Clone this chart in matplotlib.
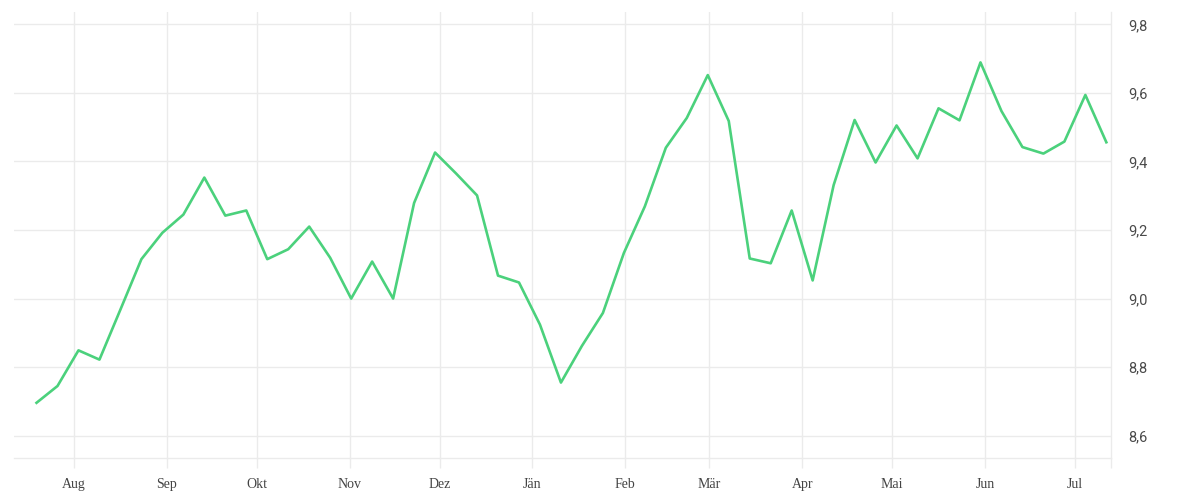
import matplotlib
matplotlib.use('Agg')
import matplotlib.pyplot as plt
import numpy as np

# weekly values
start_date = '2022-07-19T12'
values = [
    8.696, 8.745, 8.849, 8.822, 8.968, 9.115, 9.192, 9.245, 9.353, 9.242,
    9.257, 9.115, 9.144, 9.210, 9.119, 9.000, 9.108, 9.000, 9.279, 9.426,
    9.365, 9.301, 9.067, 9.047, 8.924, 8.755, 8.862, 8.958, 9.133, 9.269,
    9.440, 9.527, 9.652, 9.518, 9.117, 9.103, 9.257, 9.053, 9.331, 9.521,
    9.397, 9.505, 9.409, 9.555, 9.520, 9.689, 9.547, 9.442, 9.423, 9.458,
    9.594, 9.456,
]
month_labels = ['Aug', 'Sep', 'Okt', 'Nov', 'Dez', 'Jän', 'Feb', 'Mär', 'Apr', 'Mai', 'Jun', 'Jul']
month_starts = ['2022-08-01', '2022-09-01', '2022-10-01', '2022-11-01', '2022-12-01', '2023-01-01',
                '2023-02-01', '2023-03-01', '2023-04-01', '2023-05-01', '2023-06-01', '2023-07-01']
y_ticks = [8.6, 8.8, 9.0, 9.2, 9.4, 9.6, 9.8]


def to_dt(s):
    return np.datetime64(s, 'h').astype(object)


dates = np.datetime64(start_date, 'h') + np.arange(len(values)) * np.timedelta64(7 * 24, 'h')
dates = dates.astype(object)
ticks = [to_dt(d) for d in month_starts]

grid_c = '#ebebeb'
text_c = '#444444'

fig = plt.figure(figsize=(12, 5), dpi=100)
ax = fig.add_axes([0.0117, 0.084, 0.914, 0.892])

ax.plot(dates, values, color='#4bd17c', linewidth=1.9, zorder=3)

x_right = to_dt('2023-07-13')
ax.set_xlim(to_dt('2022-07-12'), x_right)
ax.set_ylim(8.535, 9.836)

ax.set_xticks(ticks)
ax.set_xticklabels(month_labels)
ax.set_xticks([x_right], minor=True)
ax.set_yticks(y_ticks)
ax.set_yticklabels([f'{v:.1f}'.replace('.', ',') for v in y_ticks])

ax.yaxis.tick_right()
ax.grid(True, color=grid_c, linewidth=1.0, zorder=0)
ax.tick_params(axis='x', which='both', length=7.2, width=1.0, color=grid_c, pad=7.5,
               labelsize=10, labelcolor=text_c)
ax.tick_params(axis='y', length=0, pad=12.5, labelsize=10.5, labelcolor='#4a4a4a')
for lab in ax.get_xticklabels():
    lab.set_family('Liberation Serif')
for lab in ax.get_yticklabels():
    lab.set_family('Roboto')

for side in ['left', 'top']:
    ax.spines[side].set_visible(False)
for side in ['bottom', 'right']:
    ax.spines[side].set_color(grid_c)
    ax.spines[side].set_linewidth(1.0)

fig.savefig('out.png', dpi=100)
